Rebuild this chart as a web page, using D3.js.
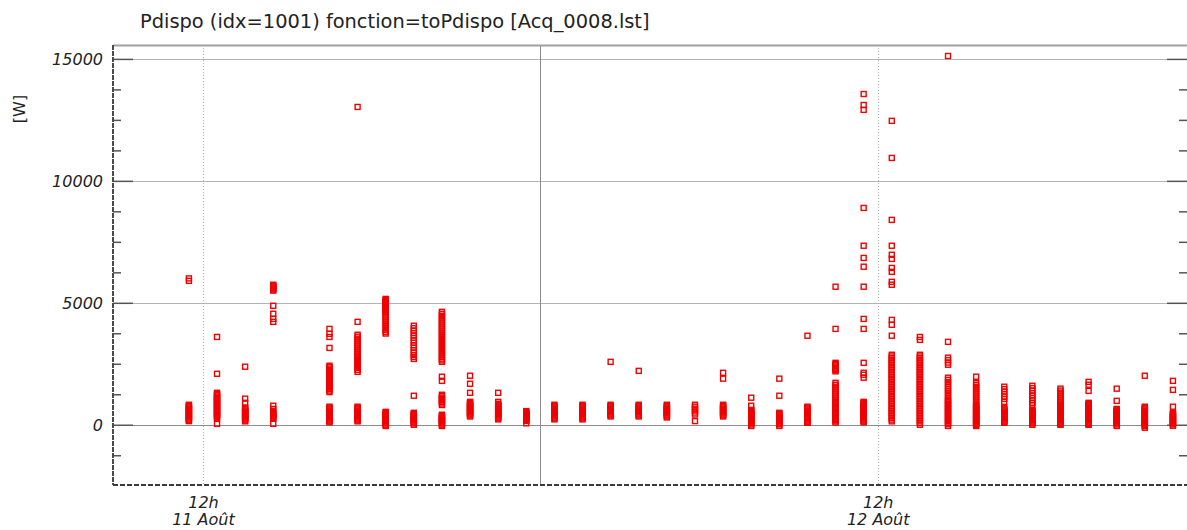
<!DOCTYPE html>
<html>
<head>
<meta charset="utf-8">
<script src="https://cdn.jsdelivr.net/npm/d3@7"></script>
<style>
  body { margin: 0; background: #fff; }
  svg { display: block; }
  text { font-family: "DejaVu Sans", Verdana, sans-serif; fill: #222; }
</style>
</head>
<body>
<svg id="chart" width="1187" height="530"></svg>
<script>
// ---- Data -------------------------------------------------------------
const chartTitle = "Pdispo (idx=1001) fonction=toPdispo [Acq_0008.lst]";
const unitLabel = "[W]";

// hours counted from 11 Août 00:00
const dayTickHours = [12, 36];
const dayTickTimes = ["12h", "12h"];
const dayTickDates = ["11 Août", "12 Août"];
const midnightHours = [24];
const yMajorTicks = [0, 5000, 10000, 15000];

// one acquisition slot per hour (centre of the hour)
const slotHours = [11.5, 12.5, 13.5, 14.5, 16.5, 17.5, 18.5, 19.5, 20.5, 21.5,
  22.5, 23.5, 24.5, 25.5, 26.5, 27.5, 28.5, 29.5, 30.5, 31.5, 32.5, 33.5, 34.5,
  35.5, 36.5, 37.5, 38.5, 39.5, 40.5, 41.5, 42.5, 43.5, 44.5, 45.5, 46.5];

// Pdispo readings [W] recorded in each slot
const slotValues = [
  [6000, 5900, 820, 780, 740, 700, 660, 620, 580, 540, 500, 460, 420, 380, 340, 300, 260, 220, 180, 150],
  [3600, 2090, 1310, 1260, 1210, 1160, 1110, 1060, 1010, 960, 910, 860, 810, 760, 710, 660, 610, 560, 510, 460,
   410, 360, 310, 260, 40],
  [2380, 1070, 900, 700, 660, 620, 580, 540, 500, 460, 420, 380, 340, 300, 260, 220, 180, 140],
  [5740, 5700, 5660, 5620, 5580, 5540, 5500, 4880, 4550, 4340, 4220, 780, 650, 530, 490, 450, 410, 370, 330, 290,
   250, 40],
  [3930, 3730, 3600, 3150, 2420, 2360, 2300, 2240, 2180, 2120, 2060, 2000, 1940, 1880, 1820, 1760, 1700, 1640,
   1580, 1520, 1460, 1400, 1340, 740, 700, 660, 620, 580, 540, 500, 460, 420, 380, 340, 300, 260, 220, 180, 140, 100],
  [13030, 4220, 3690, 3610, 3530, 3450, 3370, 3290, 3210, 3130, 3050, 2970, 2890, 2810, 2730, 2650, 2570, 2490,
   2410, 2330, 2250, 2170, 740, 700, 660, 620, 580, 540, 500, 460, 420, 380, 340, 300, 260, 220, 180, 140],
  [5160, 5120, 5080, 5040, 5000, 4960, 4920, 4880, 4840, 4800, 4760, 4720, 4680, 4640, 4600, 4520, 4440, 4360,
   4280, 4200, 4120, 4040, 3960, 3880, 3800, 3740, 530, 490, 450, 410, 370, 330, 290, 250, 210, 170, 130, 90, 50,
   0, -50],
  [4060, 3960, 3860, 3760, 3660, 3560, 3460, 3360, 3260, 3160, 3060, 2960, 2860, 2780, 2700, 1190, 490, 450, 410,
   370, 330, 290, 250, 210, 170, 130, 90, 50, 0],
  [4630, 4550, 4470, 4390, 4310, 4230, 4150, 4070, 3990, 3910, 3830, 3750, 3670, 3590, 3510, 3430, 3350, 3270,
   3190, 3110, 3030, 2950, 2870, 2790, 2710, 2640, 2580, 1970, 1800, 1230, 1170, 1110, 1050, 990, 930, 870, 810,
   410, 370, 330, 290, 250, 210, 170, 130, 90, 50, 0, -50],
  [2010, 1680, 1310, 940, 900, 860, 820, 780, 740, 700, 660, 620, 580, 540, 500, 460, 420, 380, 340],
  [1310, 940, 860, 820, 780, 740, 700, 660, 620, 580, 540, 500, 460, 420, 380, 340, 300, 260, 220],
  [560, 520, 480, 440, 400, 360, 320, 280, 240, 200, 160, 60],
  [820, 780, 740, 700, 660, 620, 580, 540, 500, 460, 420, 380, 340, 300, 260, 220],
  [820, 780, 740, 700, 660, 620, 580, 540, 500, 460, 420, 380, 340, 300, 260, 220],
  [2580, 820, 780, 740, 700, 660, 620, 580, 540, 500, 460, 420, 380, 340],
  [2210, 820, 780, 740, 700, 660, 620, 580, 540, 500, 460, 420, 380, 340],
  [820, 780, 740, 700, 660, 620, 580, 540, 500, 460, 420, 380, 340, 300],
  [820, 740, 660, 580, 500, 420, 150],
  [2130, 1890, 820, 780, 740, 700, 660, 620, 580, 540, 500, 460, 420, 380, 340],
  [1110, 780, 610, 570, 530, 490, 450, 410, 370, 330, 290, 250, 210, 170, 130, 90, 50, 10, -50],
  [1890, 1190, 490, 450, 410, 370, 330, 290, 250, 210, 170, 130, 90, 50, 10, -50],
  [3650, 740, 700, 660, 620, 580, 540, 500, 460, 420, 380, 340, 300, 260, 220, 180, 140, 100, 80],
  [5660, 3930, 2540, 2490, 2440, 2390, 2340, 2290, 2240, 2190, 1720, 1640, 1560, 1480, 1400, 1320, 1240, 1160,
   1080, 1000, 940, 890, 840, 790, 740, 690, 640, 590, 540, 490, 440, 390, 340, 290, 240, 190, 140, 90],
  [13560, 13110, 12910, 8890, 7340, 6840, 6480, 5660, 4340, 3930, 2540, 2130, 2050, 1930, 940, 900, 860, 820,
   780, 740, 700, 660, 620, 580, 540, 500, 460, 420, 380, 340, 300, 260, 220, 180, 140, 100],
  [12460, 10940, 8400, 7340, 6970, 6800, 6430, 6270, 5860, 5740, 4300, 4100, 3650, 2870, 2800, 2730, 2660, 2590,
   2520, 2450, 2380, 2310, 2240, 2170, 2100, 2030, 1960, 1890, 1820, 1750, 1680, 1610, 1540, 1470, 1400, 1330,
   1260, 1190, 1120, 1050, 980, 910, 840, 770, 700, 630, 560, 490, 420, 350, 280, 210, 140],
  [3600, 3480, 2870, 2800, 2730, 2660, 2590, 2520, 2450, 2380, 2310, 2240, 2170, 2100, 2030, 1960, 1890, 1820,
   1750, 1680, 1610, 1540, 1470, 1400, 1330, 1260, 1190, 1120, 1050, 980, 910, 840, 770, 700, 630, 560, 490, 420,
   350, 280, 210, 140, 70, 0],
  [15120, 3400, 2750, 2650, 2550, 2460, 1930, 1840, 1750, 1660, 1570, 1480, 1390, 1300, 1210, 1120, 1040, 980,
   920, 860, 800, 740, 680, 620, 560, 500, 440, 380, 320, 260, 200, 140, 80, 20, -50],
  [1970, 1720, 1640, 1560, 1480, 1400, 1320, 1240, 1160, 1080, 1000, 920, 840, 780, 740, 700, 660, 620, 580, 540,
   500, 460, 420, 380, 340, 300, 260, 220, 180, 140, 100, 60, 20, -20, -50],
  [1560, 1460, 1360, 1260, 1160, 1060, 940, 700, 660, 620, 580, 540, 500, 460, 420, 380, 340, 300, 260, 220, 180,
   140, 100, 80],
  [1600, 1500, 1400, 1300, 1200, 1100, 1000, 900, 820, 610, 570, 530, 490, 450, 410, 370, 330, 290, 250, 210, 170,
   130, 90, 50, 0],
  [1480, 1400, 1320, 1240, 1160, 1080, 1000, 920, 840, 780, 740, 700, 660, 620, 580, 540, 500, 460, 420, 380, 340,
   300, 260, 220, 180, 140, 100, 60, 20, 0],
  [1760, 1640, 1390, 900, 860, 820, 780, 740, 700, 660, 620, 580, 540, 500, 460, 420, 380, 340, 300, 260, 220, 180,
   140, 100, 60, 20, 0],
  [1480, 980, 650, 610, 570, 530, 490, 450, 410, 370, 330, 290, 250, 210, 170, 130, 90, 50, 10, -50],
  [2010, 740, 700, 660, 620, 580, 540, 500, 460, 420, 380, 340, 300, 260, 220, 180, 140, 100, 60, 20, -20, -60, -120],
  [1800, 1430, 740, 490, 450, 410, 370, 330, 290, 250, 210, 170, 130, 90, 50, 10, -40]
];

// ---- Layout -----------------------------------------------------------
const plot = { left: 113, right: 1187, top: 45, bottom: 485 };
const svg = d3.select("#chart");

const x = d3.scaleLinear().domain([8.8, 47]).range([plot.left, plot.right]);
const y = d3.scaleLinear().domain([-2470, 15570]).range([plot.bottom, plot.top]);
const minorTicks = d3.range(-1250, 15570, 1250).filter(v => v % 5000 !== 0);

// horizontal grid
svg.append("g").selectAll("line").data(yMajorTicks).join("line")
  .attr("x1", plot.left).attr("x2", plot.right)
  .attr("y1", d => Math.round(y(d)) + 0.5).attr("y2", d => Math.round(y(d)) + 0.5)
  .attr("stroke", d => d === 0 ? "#8c8c8c" : "#b4b4b4").attr("stroke-width", 1);

// vertical grid: dotted at noon, solid at midnight
svg.append("g").selectAll("line").data(dayTickHours).join("line")
  .attr("x1", d => Math.round(x(d)) + 0.5).attr("x2", d => Math.round(x(d)) + 0.5)
  .attr("y1", plot.top).attr("y2", plot.bottom)
  .attr("stroke", "#b0b0b0").attr("stroke-dasharray", "1,2");
svg.append("g").selectAll("line").data(midnightHours).join("line")
  .attr("x1", d => Math.round(x(d)) + 0.5).attr("x2", d => Math.round(x(d)) + 0.5)
  .attr("y1", plot.top).attr("y2", plot.bottom)
  .attr("stroke", "#8c8c8c");

// top border
svg.append("line")
  .attr("x1", plot.left).attr("x2", plot.right)
  .attr("y1", plot.top + 0.5).attr("y2", plot.top + 0.5)
  .attr("stroke", "#a0a0a0").attr("stroke-width", 2);

// left axis: major ticks with labels, minor ticks without
const leftMajor = svg.append("g").attr("transform", `translate(${plot.left},0)`)
  .call(d3.axisLeft(y).tickValues(yMajorTicks).tickSize(-20).tickPadding(10).tickFormat(d3.format("d")));
const leftMinor = svg.append("g").attr("transform", `translate(${plot.left},0)`)
  .call(d3.axisLeft(y).tickValues(minorTicks).tickSize(-8).tickFormat(""));
// right axis mirrors the ticks
const rightMajor = svg.append("g").attr("transform", `translate(${plot.right},0)`)
  .call(d3.axisRight(y).tickValues(yMajorTicks).tickSize(-20).tickFormat(""));
const rightMinor = svg.append("g").attr("transform", `translate(${plot.right},0)`)
  .call(d3.axisRight(y).tickValues(minorTicks).tickSize(-8).tickFormat(""));

[leftMajor, leftMinor, rightMajor, rightMinor].forEach(g => {
  g.select(".domain").remove();
  g.selectAll(".tick line").attr("stroke", "#555").attr("stroke-width", 1.5);
});
leftMajor.selectAll(".tick text")
  .attr("font-family", "DejaVu Sans, sans-serif")
  .attr("font-size", 16).attr("font-style", "italic").attr("fill", "#222").attr("dy", "0.33em");

// left axis line
svg.append("line")
  .attr("x1", plot.left).attr("x2", plot.left)
  .attr("y1", plot.top).attr("y2", plot.bottom)
  .attr("stroke", "#4a4a4a").attr("stroke-width", 2).attr("stroke-dasharray", "5,1");

// bottom axis (dashed baseline, two-line labels)
const bottom = svg.append("g").attr("transform", `translate(0,${plot.bottom})`)
  .call(d3.axisBottom(x).tickValues(dayTickHours).tickSize(0).tickFormat(""));
bottom.select(".domain").remove();
svg.append("line")
  .attr("x1", plot.left).attr("x2", plot.right)
  .attr("y1", plot.bottom).attr("y2", plot.bottom)
  .attr("stroke", "#3a3a3a").attr("stroke-width", 2).attr("stroke-dasharray", "5,2");
bottom.selectAll(".tick").each(function (d, i) {
  const t = d3.select(this).append("text")
    .attr("text-anchor", "middle").attr("font-size", 16).attr("font-style", "italic").attr("fill", "#222");
  t.append("tspan").attr("x", 0).attr("y", 23).text(dayTickTimes[i]);
  t.append("tspan").attr("x", 0).attr("y", 40).text(dayTickDates[i]);
});

// unit label
svg.append("text")
  .attr("transform", "translate(25,109) rotate(-90)")
  .attr("text-anchor", "middle").attr("font-size", 16).text(unitLabel);

// title
svg.append("text")
  .attr("x", 140).attr("y", 28).attr("font-size", 19.4).attr("fill", "#333").text(chartTitle);

// ---- Points -----------------------------------------------------------
const points = slotHours.flatMap((h, i) => slotValues[i].map(v => ({ h, v })));
const size = 5;
svg.append("g").selectAll("rect").data(points).join("rect")
  .attr("x", d => x(d.h) - size / 2)
  .attr("y", d => y(d.v) - size / 2)
  .attr("width", size).attr("height", size)
  .attr("fill", "none").attr("stroke", "#f00000").attr("stroke-width", 1.4);
</script>
</body>
</html>
